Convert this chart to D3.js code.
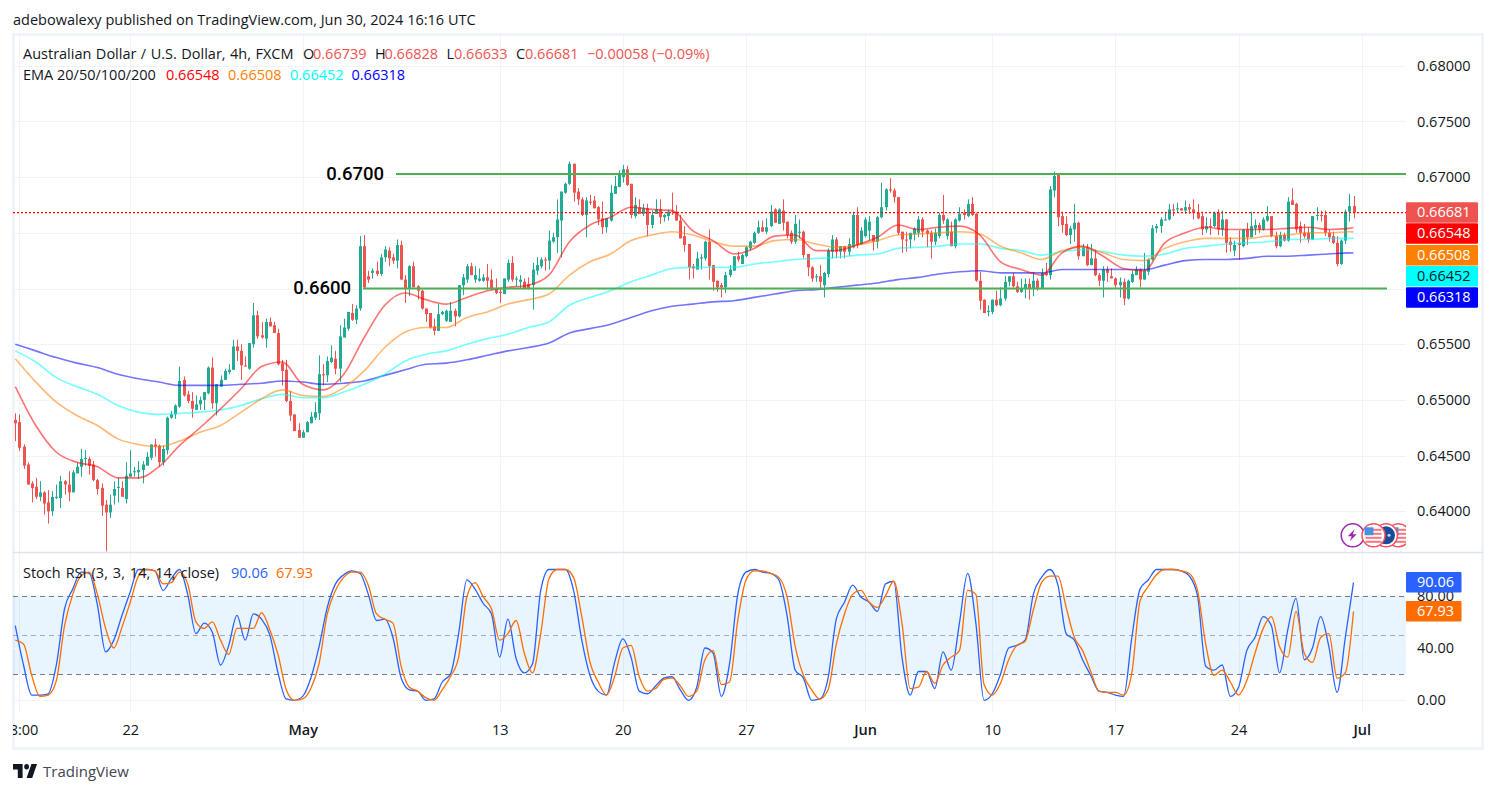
<!DOCTYPE html>
<html>
<head>
<meta charset="utf-8">
<script src="https://cdn.jsdelivr.net/npm/d3@7"></script>
<style>
    html, body { margin: 0; padding: 0; background: #fff; }
    #chart { width: 1496px; height: 793px; }
    text { font-family: "Open Sans", sans-serif; }
</style>
</head>
<body>
<div id="chart"></div>
<script>
// candles, prices in pips (0.0001), one row = 10 candles
var opens = [
    6482,6480,6458,6442,6425,6422,6413,6417,6408,6400,
    6412,6412,6427,6424,6417,6434,6440,6447,6447,6442,
    6428,6421,6406,6399,6414,6421,6421,6411,6431,6435,
    6435,6437,6441,6448,6460,6459,6444,6455,6484,6487,
    6494,6518,6505,6499,6491,6496,6500,6506,6529,6497,
    6512,6518,6525,6527,6548,6544,6531,6528,6550,6576,
    6558,6555,6570,6567,6560,6533,6527,6499,6487,6473,
    6466,6471,6479,6484,6488,6523,6522,6534,6537,6528,
    6556,6564,6578,6572,6582,6638,6611,6614,6616,6613,
    6628,6634,6628,6625,6639,6608,6600,6620,6602,6598,
    6582,6578,6566,6562,6577,6571,6570,6580,6575,6603,
    6608,6620,6608,6607,6607,6610,6608,6600,6597,6595,
    6608,6623,6608,6606,6606,6604,6603,6616,6620,6626,
    6625,6642,6646,6661,6686,6694,6712,6687,6680,6666,
    6678,6679,6673,6663,6655,6661,6685,6691,6700,6707,
    6694,6665,6673,6667,6672,6657,6667,6671,6664,6665,
    6670,6669,6661,6647,6640,6620,6617,6627,6627,6642,
    6621,6607,6603,6601,6612,6616,6629,6622,6629,6636,
    6641,6650,6655,6651,6656,6671,6658,6670,6660,6650,
    6642,6650,6651,6631,6619,6610,6611,6603,6613,6633,
    6644,6633,6638,6633,6637,6666,6640,6647,6652,6648,
    6642,6664,6673,6689,6688,6682,6651,6644,6644,6649,
    6650,6662,6652,6650,6642,6647,6666,6647,6651,6638,
    6661,6668,6665,6676,6667,6607,6590,6579,6579,6590,
    6585,6591,6606,6611,6602,6597,6600,6604,6600,6607,
    6600,6614,6612,6688,6702,6665,6658,6648,6653,6659,
    6629,6637,6621,6627,6612,6607,6617,6611,6609,6603,
    6606,6591,6606,6612,6617,6608,6615,6626,6654,6656,
    6662,6662,6671,6671,6672,6670,6673,6671,6668,6665,
    6653,6656,6656,6668,6653,6662,6642,6634,6641,6638,
    6653,6646,6654,6657,6653,6661,6665,6647,6638,6648,
    6643,6679,6676,6656,6650,6650,6644,6665,6666,6666,
    6650,6647,6641,6622,6643,6669,6674
];
var closes = [
    6479,6457,6441,6424,6421,6413,6417,6407,6400,6413,
    6413,6427,6424,6417,6435,6440,6447,6448,6441,6428,
    6420,6405,6399,6406,6420,6422,6413,6432,6434,6436,
    6437,6442,6449,6460,6458,6444,6456,6484,6487,6495,
    6517,6504,6499,6492,6496,6500,6507,6529,6497,6514,
    6518,6526,6527,6548,6544,6531,6530,6551,6576,6557,
    6556,6570,6566,6560,6532,6526,6499,6486,6472,6466,
    6471,6480,6485,6489,6523,6522,6535,6538,6528,6557,
    6565,6579,6572,6582,6638,6601,6608,6616,6613,6628,
    6635,6627,6625,6639,6608,6600,6620,6601,6598,6582,
    6577,6565,6562,6577,6579,6580,6580,6575,6603,6610,
    6620,6612,6612,6609,6610,6607,6600,6596,6596,6609,
    6623,6608,6609,6608,6600,6600,6617,6621,6626,6625,
    6643,6646,6662,6687,6694,6712,6686,6680,6666,6679,
    6677,6672,6662,6655,6663,6686,6692,6702,6707,6693,
    6666,6675,6667,6672,6657,6666,6671,6664,6666,6669,
    6669,6661,6645,6639,6619,6618,6627,6628,6642,6620,
    6606,6601,6601,6612,6617,6629,6626,6630,6637,6642,
    6650,6655,6651,6655,6669,6659,6671,6659,6648,6642,
    6658,6651,6630,6619,6609,6611,6606,6614,6634,6644,
    6633,6638,6633,6640,6666,6639,6652,6662,6660,6642,
    6664,6673,6689,6688,6682,6650,6644,6643,6650,6654,
    6662,6651,6649,6642,6650,6666,6661,6662,6638,6662,
    6667,6666,6676,6666,6607,6589,6578,6580,6590,6585,
    6591,6606,6611,6602,6597,6600,6604,6600,6607,6600,
    6614,6612,6689,6701,6664,6657,6648,6654,6659,6629,
    6637,6621,6627,6612,6607,6617,6614,6609,6603,6606,
    6591,6607,6613,6617,6608,6616,6626,6654,6656,6662,
    6662,6671,6670,6672,6670,6673,6671,6668,6663,6653,
    6656,6655,6668,6653,6662,6641,6639,6639,6639,6653,
    6646,6656,6657,6653,6662,6665,6647,6638,6648,6643,
    6678,6675,6653,6650,6647,6644,6665,6666,6665,6650,
    6646,6641,6622,6643,6669,6674,6668
];
var highs = [
    6488,6487,6460,6444,6427,6430,6427,6418,6419,6418,
    6424,6432,6428,6436,6437,6444,6456,6455,6449,6445,
    6429,6425,6410,6415,6427,6430,6427,6444,6455,6440,
    6445,6445,6453,6460,6465,6460,6459,6485,6490,6496,
    6530,6521,6508,6507,6504,6503,6507,6530,6538,6514,
    6522,6528,6532,6554,6554,6550,6539,6551,6587,6580,
    6570,6573,6574,6570,6564,6536,6536,6508,6487,6479,
    6473,6481,6489,6498,6540,6532,6539,6549,6544,6567,
    6573,6579,6586,6585,6647,6648,6616,6618,6624,6631,
    6638,6637,6631,6644,6643,6612,6621,6624,6603,6599,
    6582,6578,6573,6586,6580,6581,6588,6582,6603,6613,
    6622,6623,6620,6618,6613,6622,6617,6609,6600,6609,
    6626,6629,6611,6612,6609,6610,6623,6628,6628,6628,
    6652,6650,6680,6687,6695,6714,6712,6690,6682,6682,
    6684,6683,6674,6678,6663,6693,6701,6706,6711,6710,
    6694,6682,6680,6676,6676,6670,6680,6680,6667,6671,
    6686,6675,6666,6656,6640,6622,6633,6631,6643,6653,
    6621,6607,6605,6615,6621,6629,6633,6631,6638,6643,
    6651,6661,6661,6663,6675,6672,6672,6680,6660,6652,
    6666,6662,6652,6631,6620,6613,6621,6615,6636,6648,
    6646,6638,6638,6645,6669,6673,6655,6664,6665,6648,
    6665,6695,6690,6699,6690,6682,6651,6651,6650,6655,
    6665,6664,6653,6652,6654,6668,6684,6663,6660,6663,
    6673,6671,6680,6682,6668,6615,6590,6585,6590,6598,
    6601,6611,6611,6614,6606,6609,6609,6609,6615,6609,
    6618,6623,6692,6705,6702,6669,6665,6656,6676,6660,
    6640,6640,6640,6635,6614,6620,6620,6618,6610,6610,
    6609,6608,6616,6620,6618,6632,6627,6657,6658,6664,
    6669,6676,6676,6677,6672,6679,6676,6680,6676,6669,
    6664,6663,6669,6671,6670,6662,6646,6643,6652,6653,
    6659,6669,6662,6659,6664,6674,6665,6651,6651,6650,
    6682,6690,6677,6660,6658,6655,6665,6673,6670,6670,
    6653,6651,6647,6644,6671,6685,6683
];
var lows = [
    6463,6454,6438,6424,6408,6411,6409,6397,6389,6396,
    6411,6403,6415,6409,6417,6434,6431,6441,6433,6427,
    6415,6396,6364,6394,6406,6408,6413,6407,6431,6431,
    6429,6425,6441,6446,6449,6440,6441,6451,6483,6483,
    6493,6503,6497,6484,6491,6491,6491,6505,6492,6486,
    6512,6518,6523,6527,6535,6518,6530,6527,6547,6555,
    6555,6547,6566,6560,6531,6513,6498,6481,6472,6466,
    6466,6471,6479,6482,6482,6513,6516,6533,6523,6516,
    6556,6562,6571,6568,6580,6600,6605,6609,6611,6611,
    6624,6620,6622,6618,6608,6587,6593,6601,6590,6581,
    6570,6564,6558,6562,6576,6570,6570,6566,6574,6594,
    6605,6612,6605,6606,6606,6599,6599,6595,6587,6595,
    6606,6606,6602,6600,6599,6599,6581,6612,6618,6616,
    6617,6641,6632,6628,6685,6693,6678,6675,6665,6646,
    6675,6672,6657,6649,6650,6660,6685,6691,6695,6692,
    6663,6663,6667,6665,6647,6654,6667,6658,6660,6661,
    6666,6661,6645,6633,6608,6609,6617,6617,6625,6608,
    6598,6597,6592,6596,6610,6616,6624,6622,6628,6634,
    6640,6649,6651,6649,6655,6659,6658,6652,6645,6640,
    6640,6645,6627,6611,6606,6606,6600,6592,6610,6627,
    6627,6627,6627,6629,6636,6636,6639,6646,6643,6634,
    6636,6663,6670,6686,6677,6648,6632,6633,6636,6643,
    6646,6646,6637,6627,6639,6645,6658,6644,6638,6636,
    6660,6662,6664,6665,6606,6581,6578,6575,6577,6584,
    6584,6589,6602,6601,6596,6596,6591,6590,6593,6598,
    6600,6611,6608,6682,6656,6650,6647,6640,6642,6626,
    6629,6620,6621,6611,6602,6592,6606,6609,6600,6592,
    6585,6590,6605,6612,6601,6608,6612,6625,6650,6650,
    6661,6661,6665,6668,6670,6667,6667,6662,6662,6648,
    6650,6648,6655,6648,6647,6632,6633,6629,6626,6637,
    6639,6646,6648,6650,6652,6660,6646,6636,6637,6642,
    6642,6675,6650,6641,6645,6641,6644,6661,6660,6647,
    6642,6640,6620,6621,6640,6660,6663
];

// EMAs, read every 5th candle plus the last one
var ema20 = [
    6512,6477,6453,6444,6440,6430,6430,6440,6459,6475,
    6492,6510,6530,6534,6514,6509,6523,6556,6585,6596,
    6590,6586,6592,6598,6601,6603,6612,6642,6657,6664,
    6673,6671,6670,6652,6643,6631,6636,6647,6648,6634,
    6634,6639,6646,6657,6653,6655,6656,6648,6624,6617,
    6612,6632,6638,6629,6618,6616,6641,6650,6655,6653,
    6653,6653,6654,6655,6653,6654,6654.8
];
var ema50 = [
    6537,6516,6498,6486,6477,6465,6460,6458,6463,6471,
    6477,6489,6501,6509,6504,6503,6511,6526,6547,6561,
    6565,6565,6574,6579,6586,6590,6595,6612,6624,6631,
    6643,6648,6651,6648,6642,6638,6638,6643,6644,6640,
    6637,6639,6643,6648,6649,6650,6651,6649,6638,6632,
    6626,6634,6637,6632,6626,6625,6636,6642,6645,6645,
    6645,6647,6648,6650,6650,6651,6650.8
];
var ema100 = [
    6544,6534,6520,6512,6505,6495,6489,6487,6488,6489,
    6491,6495,6501,6505,6502,6502,6507,6514,6523,6535,
    6541,6544,6550,6555,6559,6565,6570,6585,6592,6598,
    6606,6612,6618,6619,6619,6619,6622,6624,6626,6627,
    6628,6630,6631,6636,6637,6638,6640,6640,6636,6634,
    6630,6633,6635,6633,6630,6629,6631,6636,6638,6640,
    6641,6642,6644,6644,6645,6645,6645.2
];
var ema200 = [
    6550,6544,6538,6533,6529,6523,6519,6516,6513,6513,
    6513,6514,6515,6517,6516,6514,6515,6517,6522,6527,
    6532,6533,6536,6540,6544,6547,6551,6560,6564,6568,
    6574,6580,6584,6586,6588,6589,6592,6595,6598,6599,
    6601,6603,6605,6608,6610,6613,6615,6616,6614,6614,
    6614,6617,6617,6617,6617,6617,6621,6625,6626,6626,
    6627,6629,6629,6630,6631,6632,6631.8
];

// Stoch RSI, read every 2nd candle
var stochK = [
    57,27,4,4,5,27,70,85,98,97,
    73,37,46,65,83,100,100,99,84,93,
    100,81,51,59,52,27,42,65,46,66,
    62,50,21,1,0,3,17,41,71,89,
    96,99,97,81,61,62,48,17,8,7,
    0,1,14,20,51,92,85,74,66,33,
    62,32,21,28,84,100,100,100,84,46,
    19,7,4,29,47,33,7,5,11,17,
    18,8,0,10,40,36,3,28,81,98,
    100,98,97,92,65,23,17,0,1,17,
    62,75,88,79,75,68,89,91,33,4,
    22,22,9,37,23,59,97,59,0,5,
    20,40,42,46,81,94,100,88,51,46,
    31,19,7,6,4,3,48,85,92,100,
    100,100,99,95,80,26,23,27,3,10,
    38,48,64,57,21,54,78,31,40,64,
    41,6,48,90.06
];
var stochD = [
    46,43,19,3,4,15,57,81,95,98,
    81,55,40,56,75,95,100,99,89,90,
    98,89,60,55,60,46,35,55,55,55,
    67,54,35,8,0,1,9,28,66,84,
    94,98,98,88,66,62,59,26,10,7,
    2,0,8,18,33,79,90,79,70,46,
    51,61,36,21,51,93,100,100,94,64,
    29,14,4,18,40,42,18,7,9,16,
    17,11,3,7,31,38,12,14,61,92,
    99,99,97,94,79,41,19,8,1,8,
    43,66,81,84,75,71,80,91,59,9,
    10,22,13,27,33,38,84,81,12,4,
    13,31,42,45,69,90,95,95,71,48,
    38,22,7,6,6,4,21,76,87,96,
    100,100,99,97,84,43,19,23,14,4,
    15,36,55,64,41,33,68,36,29,48,
    51,17,21,67.93
];

// axis ticks
var priceGrid = [0.64, 0.645, 0.65, 0.655, 0.66, 0.665, 0.67, 0.675, 0.68];
var priceTicks = [0.64, 0.645, 0.65, 0.655, 0.67, 0.675, 0.68];
var stochTicks = [0, 40, 80];
var stochLevels = [20, 50, 80];
var timeTickIndex = [1, 28, 70, 118, 148, 178, 207, 238, 268, 298, 328];
var timeTickLabels = ['18:00', '22', 'May', '13', '20', '27', 'Jun', '10', '17', '24', 'Jul'];
var monthLabels = ['May', 'Jun', 'Jul'];

// drawn levels
var levelPrices = [0.67027, 0.66];
var levelLabels = ['0.6700', '0.6600'];
var lastClose = 0.66681;

// right hand value tags
var priceTagValues = ['0.66681', '0.66548', '0.66508', '0.66452', '0.66318'];
var priceTagColors = ['#ef5350', '#ff0000', '#ff7f00', '#00ffff', '#0000ff'];
var stochTagValues = ['90.06', '67.93'];

var W = 1496, H = 793;
var paneLeft = 13, paneRight = 1406;
var fontSize = 14.5;

var svg = d3.select('#chart')
    .append('svg')
        .attr('width', W)
        .attr('height', H)
;

var defs = svg.append('defs');
defs.append('clipPath').attr('id', 'priceClip').append('rect')
    .attr('x', paneLeft).attr('y', 35).attr('width', paneRight - paneLeft).attr('height', 517);
defs.append('clipPath').attr('id', 'stochClip').append('rect')
    .attr('x', paneLeft).attr('y', 553).attr('width', paneRight - paneLeft).attr('height', 195);
defs.append('clipPath').attr('id', 'timeClip').append('rect')
    .attr('x', paneLeft).attr('y', 713).attr('width', 1470).attr('height', 35);

// scales
var x = d3.scaleLinear().domain([0, 326]).range([15.3, 1353.5]);
var y = d3.scaleLinear().domain([0.64, 0.68]).range([511.3, 65.7]);
var yStoch = d3.scaleLinear().domain([0, 100]).range([700.3, 569.5]);
var pip = function(v) { return y(v / 10000); };

var candles = opens.map(function(o, i) {
    return { i: i, o: o, c: closes[i], h: highs[i], l: lows[i] };
});
var emaIndex = d3.range(0, 326, 5).concat([326]);
var stochIndex = d3.range(0, 327, 2);

// frame
svg.append('rect')
    .attr('x', 13.5).attr('y', 34.5).attr('width', 1469).attr('height', 714)
    .attr('fill', '#fff').attr('stroke', '#f0f3fa').attr('stroke-width', 3);

// grid
var gridColor = '#f0f3fa';
svg.append('g').selectAll('line')
    .data(timeTickIndex)
    .enter().append('line')
        .attr('x1', function(d) { return Math.round(x(d)) + 0.5; })
        .attr('x2', function(d) { return Math.round(x(d)) + 0.5; })
        .attr('y1', 35).attr('y2', 713)
        .attr('stroke', gridColor);
svg.append('g').selectAll('line')
    .data(priceGrid)
    .enter().append('line')
        .attr('x1', paneLeft).attr('x2', paneRight)
        .attr('y1', function(d) { return Math.round(y(d)) + 0.5; })
        .attr('y2', function(d) { return Math.round(y(d)) + 0.5; })
        .attr('stroke', gridColor);

// stoch band
svg.append('rect')
    .attr('x', paneLeft).attr('width', paneRight - paneLeft)
    .attr('y', yStoch(80)).attr('height', yStoch(20) - yStoch(80))
    .attr('fill', '#2196f3').attr('fill-opacity', 0.1);
svg.append('g').selectAll('line')
    .data(stochTicks)
    .enter().append('line')
        .attr('x1', paneLeft).attr('x2', paneRight)
        .attr('y1', function(d) { return Math.round(yStoch(d)) + 0.5; })
        .attr('y2', function(d) { return Math.round(yStoch(d)) + 0.5; })
        .attr('stroke', gridColor);
svg.append('g').selectAll('line')
    .data(stochLevels)
    .enter().append('line')
        .attr('x1', paneLeft).attr('x2', paneRight)
        .attr('y1', function(d) { return Math.round(yStoch(d)) + 0.5; })
        .attr('y2', function(d) { return Math.round(yStoch(d)) + 0.5; })
        .attr('stroke', function(d) { return d === 50 ? '#a8abb3' : '#787b86'; })
        .attr('stroke-dasharray', '5 4');

// pane separator
svg.append('line')
    .attr('x1', 13).attr('x2', 1483).attr('y1', 552.5).attr('y2', 552.5)
    .attr('stroke', '#e0e3eb').attr('stroke-width', 1.5);

var pricePane = svg.append('g').attr('clip-path', 'url(#priceClip)');

// candles
var candleG = pricePane.append('g');
candleG.selectAll('line')
    .data(candles)
    .enter().append('line')
        .attr('x1', function(d) { return Math.round(x(d.i)) + 0.5; })
        .attr('x2', function(d) { return Math.round(x(d.i)) + 0.5; })
        .attr('y1', function(d) { return pip(d.h); })
        .attr('y2', function(d) { return pip(d.l); })
        .attr('stroke', function(d) { return d.c >= d.o ? '#22ab94' : '#ef5350'; });
candleG.selectAll('rect')
    .data(candles)
    .enter().append('rect')
        .attr('x', function(d) { return Math.round(x(d.i)) - 1; })
        .attr('width', 3)
        .attr('y', function(d) { return pip(Math.max(d.o, d.c)); })
        .attr('height', function(d) { return Math.max(1, Math.abs(pip(d.o) - pip(d.c))); })
        .attr('fill', function(d) { return d.c >= d.o ? '#22ab94' : '#ef5350'; });

// EMAs
var emaLine = d3.line()
    .x(function(d, i) { return x(emaIndex[i]); })
    .y(function(d) { return pip(d); })
    .curve(d3.curveMonotoneX);
var emaSeries = [ema200, ema100, ema50, ema20];
var emaColors = ['#0000ff', '#00ffff', '#ff7f00', '#ff0000'];
pricePane.append('g').selectAll('path')
    .data(emaSeries)
    .enter().append('path')
        .attr('d', function(d) { return emaLine(d); })
        .attr('fill', 'none')
        .attr('stroke', function(d, i) { return emaColors[i]; })
        .attr('stroke-opacity', 0.55)
        .attr('stroke-width', 1.6);

// last price line
pricePane.append('line')
    .attr('x1', paneLeft).attr('x2', paneRight)
    .attr('y1', y(lastClose)).attr('y2', y(lastClose))
    .attr('stroke', '#ff0000')
    .attr('stroke-width', 1.4)
    .attr('stroke-dasharray', '2 2');

// support and resistance
var levelFrom = [396, 363];
var levelTo = [1406, 1387];
pricePane.append('g').selectAll('line')
    .data(levelPrices)
    .enter().append('line')
        .attr('x1', function(d, i) { return levelFrom[i]; })
        .attr('x2', function(d, i) { return levelTo[i]; })
        .attr('y1', function(d) { return y(d); })
        .attr('y2', function(d) { return y(d); })
        .attr('stroke', '#4caf50')
        .attr('stroke-width', 2);
svg.append('g').selectAll('text')
    .data(levelLabels)
    .enter().append('text')
        .attr('x', function(d, i) { return levelFrom[i] - 12; })
        .attr('y', function(d, i) { return y(levelPrices[i]) + 5.5; })
        .attr('text-anchor', 'end')
        .style('font-family', 'Roboto, sans-serif')
        .attr('font-size', 18.5)
        .attr('font-weight', 500)
        .attr('fill', '#000')
        .text(function(d) { return d; });

// news icons
var icons = pricePane.append('g');
function flagIcon(cx, cy, dark) {
    var g = icons.append('g').attr('transform', 'translate(' + cx + ',' + cy + ')');
    g.append('circle').attr('r', 11.5).attr('fill', '#fff').attr('stroke', '#f7525f').attr('stroke-width', 1.5);
    if (dark) {
        g.append('circle').attr('r', 9).attr('fill', '#1b4b9b');
        g.append('circle').attr('cx', 3).attr('r', 1.5).attr('fill', '#cfd8ea');
        return;
    }
    [-6, -2, 2, 6].forEach(function(s) {
        g.append('rect').attr('x', -8).attr('y', s - 0.5).attr('width', 16).attr('height', 2).attr('fill', '#f7767f');
    });
    g.append('rect').attr('x', -9).attr('y', -8).attr('width', 9).attr('height', 8).attr('fill', '#4a90e2');
}
var newsG = icons.append('g').attr('transform', 'translate(1352.7,535.3)');
newsG.append('circle').attr('r', 11.5).attr('fill', '#fff').attr('stroke', '#9c27b0').attr('stroke-width', 1.5);
newsG.append('path').attr('d', 'M2 -6 L-5 1 H-1 L-3 6 L4 -1 H0 Z').attr('fill', '#9c27b0');
flagIcon(1398.5, 535.3, false);
flagIcon(1386, 535.3, true);
flagIcon(1373.5, 535.3, false);

// stoch lines
var stochLine = d3.line()
    .x(function(d, i) { return x(stochIndex[i]); })
    .y(function(d) { return yStoch(d); })
    .curve(d3.curveMonotoneX);
var stochPane = svg.append('g').attr('clip-path', 'url(#stochClip)');
stochPane.append('path').attr('d', stochLine(stochK))
    .attr('fill', 'none').attr('stroke', '#2962ff').attr('stroke-width', 1.3);
stochPane.append('path').attr('d', stochLine(stochD))
    .attr('fill', 'none').attr('stroke', '#ff6d00').attr('stroke-width', 1.3);

// axes
var priceAxis = d3.axisRight(y)
    .tickValues(priceTicks)
    .tickSize(0)
    .tickPadding(11)
    .tickFormat(d3.format('.5f'));
var stochAxis = d3.axisRight(yStoch)
    .tickValues(stochTicks)
    .tickSize(0)
    .tickPadding(11)
    .tickFormat(d3.format('.2f'));
var timeAxis = d3.axisBottom(x)
    .tickValues(timeTickIndex)
    .tickSize(0)
    .tickPadding(12)
    .tickFormat(function(d, i) { return timeTickLabels[i]; });

[
    svg.append('g').attr('transform', 'translate(' + paneRight + ',0)').call(priceAxis),
    svg.append('g').attr('transform', 'translate(' + paneRight + ',0)').call(stochAxis),
    svg.append('g').attr('clip-path', 'url(#timeClip)').append('g').attr('transform', 'translate(0,713)').call(timeAxis)
].forEach(function(a) {
    a.select('.domain').remove();
    a.selectAll('text')
        .attr('font-size', fontSize)
        .attr('fill', '#131722');
});
svg.selectAll('.tick text')
    .filter(function() { return monthLabels.indexOf(this.textContent) >= 0; })
    .attr('font-weight', 600);

// value tags
var tagH = 20.5;
var tagY = [202.3, 223.3, 245, 266, 287.2];
var tags = svg.append('g').selectAll('g')
    .data(priceTagValues)
    .enter().append('g')
        .attr('transform', function(d, i) { return 'translate(' + paneRight + ',' + tagY[i] + ')'; });
tags.append('rect')
    .attr('width', 72).attr('height', tagH).attr('rx', 1)
    .attr('fill', function(d, i) { return priceTagColors[i]; });
tags.append('text')
    .attr('x', 11).attr('y', 15)
    .attr('font-size', fontSize)
    .attr('fill', function(d, i) { return i === 3 ? '#131722' : '#fff'; })
    .text(function(d) { return d; });

var stochTagY = [572, 601];
var stochTagColors = ['#2962ff', '#ff6d00'];
var sTags = svg.append('g').selectAll('g')
    .data(stochTagValues)
    .enter().append('g')
        .attr('transform', function(d, i) { return 'translate(' + paneRight + ',' + stochTagY[i] + ')'; });
sTags.append('rect')
    .attr('width', 55.5).attr('height', tagH).attr('rx', 1)
    .attr('fill', function(d, i) { return stochTagColors[i]; });
sTags.append('text')
    .attr('x', 11).attr('y', 15)
    .attr('font-size', fontSize)
    .attr('fill', '#fff')
    .text(function(d) { return d; });

// legends
var dark = '#131722', redTxt = '#ef5350';
var legendRows = [
    [23, 54, 'Australian Dollar / U.S. Dollar, 4h, FXCM', dark, 0.7],
    [303, 54, 'O', dark], [313, 54, '0.66739', redTxt],
    [375, 54, 'H', dark], [384.5, 54, '0.66828', redTxt],
    [446.5, 54, 'L', dark], [454, 54, '0.66633', redTxt],
    [516, 54, 'C', dark], [525, 54, '0.66681', redTxt],
    [587, 54, '\u22120.00058', redTxt], [652, 54, '(\u22120.09%)', redTxt],
    [23, 75, 'EMA 20/50/100/200', dark],
    [166, 75, '0.66548', '#ff0000'], [228, 75, '0.66508', '#ff7f00'],
    [290, 75, '0.66452', '#00ffff'], [351.5, 75, '0.66318', '#0000ff'],
    [23, 573, 'Stoch RSI (3, 3, 14, 14, close)', dark, 1.2],
    [231, 573, '90.06', '#2962ff'], [276, 573, '67.93', '#ff6d00']
];
svg.append('g').selectAll('text')
    .data(legendRows)
    .enter().append('text')
        .attr('x', function(d) { return d[0]; })
        .attr('y', function(d) { return d[1] + 5; })
        .attr('font-size', fontSize)
        .attr('word-spacing', function(d) { return d[4] || 0; })
        .attr('fill', function(d) { return d[3]; })
        .text(function(d) { return d[2]; });

// header and logo
svg.append('text')
    .attr('x', 13).attr('y', 25)
    .attr('font-size', fontSize)
    .attr('fill', '#131722')
    .text('adebowalexy published on TradingView.com, Jun 30, 2024 16:16 UTC');
svg.append('path')
    .attr('transform', 'translate(11.4,758.4) scale(0.8,0.93)')
    .attr('d', 'M14 6H2v6h6v9h6V6Zm12 15h-7l6-15h7l-6 15Zm-7-9a3 3 0 1 0 0-6 3 3 0 0 0 0 6Z')
    .attr('fill', '#131722');
svg.append('text')
    .attr('x', 43).attr('y', 777)
    .attr('font-size', 15)
    .attr('fill', '#434651')
    .text('TradingView');
</script>
</body>
</html>
